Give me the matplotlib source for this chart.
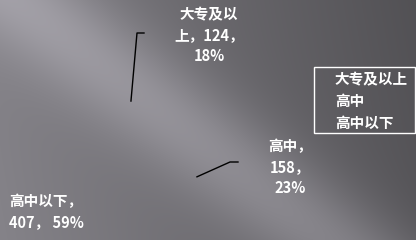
import numpy as np
import matplotlib
matplotlib.use('Agg')
import matplotlib.pyplot as plt
from matplotlib.patches import Rectangle

plt.rcParams['font.family'] = ['Noto Sans CJK SC', 'DejaVu Sans']

# data
names = ['大专及以上', '高中', '高中以下']
counts = [124, 158, 407]
pcts = [18, 23, 59]
label_text = ['大专及以\n上，124，\n18%', '高中，\n158，\n23%', '高中以下，\n407， 59%']

W, H = 416, 240
fig = plt.figure(figsize=(W / 100, H / 100), dpi=100)
ax = fig.add_axes([0, 0, 1, 1])

# grey background with a light diagonal band
yy, xx = np.mgrid[0:H, 0:W]
base = 128 - 0.11 * xx + 0.02 * yy
d = ((xx - 20) * 240 - yy * 310) / np.hypot(240, 310)
band = 36 * np.exp(-(d / 50.0) ** 2)
v = np.clip(base + band, 0, 255) / 255.0
img = np.dstack([v, v * 0.985, v * 1.03])
img = np.clip(img, 0, 1)
ax.imshow(img, extent=[0, W, 0, H], origin='upper', zorder=0, aspect='auto')

# pie with no fill (slices are invisible in the original)
cx, cy, r = 113.4, 57, 83.8
wedges, _ = ax.pie(counts, center=(cx, cy), radius=r, startangle=110.3,
                   counterclock=False,
                   wedgeprops=dict(facecolor='none', edgecolor='none'))
ax.set_xlim(0, W)
ax.set_ylim(0, H)
ax.set_aspect('auto')
ax.axis('off')

# leader lines from slice edge
elbows = {0: [(137, 207), (144, 207)], 1: [(230, 78), (238, 78)]}
for i, pts in elbows.items():
    w = wedges[i]
    ang = np.deg2rad((w.theta1 + w.theta2) / 2)
    p0 = (cx + r * np.cos(ang), cy + r * np.sin(ang))
    xs = [p0[0]] + [p[0] for p in pts]
    ys = [p0[1]] + [p[1] for p in pts]
    ax.plot(xs, ys, color='black', lw=1, zorder=3)

label_pos = [(209, 205), (290, 73), (46, 28)]
for txt, (x, y) in zip(label_text, label_pos):
    ax.text(x, y, txt, color='white', fontsize=10.5, fontweight='bold',
            ha='center', va='center', linespacing=1.38, zorder=4)

leg = ax.legend(wedges, names, loc='upper left',
                bbox_to_anchor=(313 / W, 1 - 67 / H), bbox_transform=fig.transFigure,
                frameon=False, fontsize=10.5, labelcolor='white',
                handlelength=0.8, handletextpad=0.4, labelspacing=0.4,
                borderpad=0.3, borderaxespad=0)
for t in leg.get_texts():
    t.set_fontweight('bold')

# legend frame runs nearly to the right edge in the original
fig.patches.append(Rectangle((313.5 / W, 1 - 132.5 / H), 101.5 / W, 65.5 / H,
                             transform=fig.transFigure, fill=False,
                             edgecolor='white', lw=1, zorder=5))

fig.savefig('out.png', dpi=100)
